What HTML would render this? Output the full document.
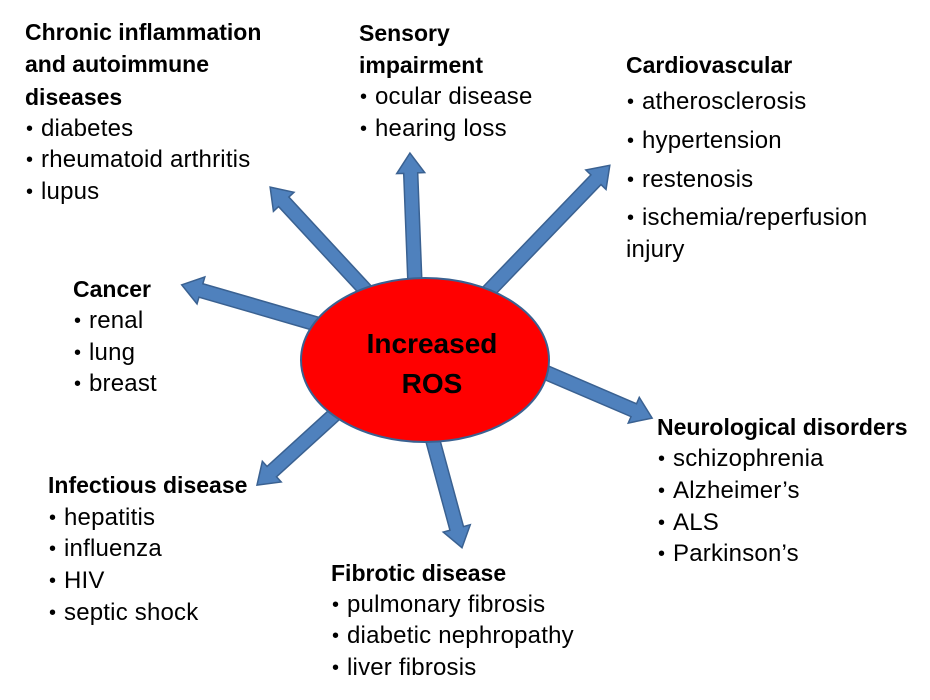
<!DOCTYPE html>
<html><head><meta charset="utf-8"><style>
body{margin:0;width:930px;height:700px;background:#fff;position:relative;overflow:hidden;font-family:"Liberation Sans",sans-serif;}
.t{position:absolute;font-size:24px;line-height:24px;white-space:nowrap;color:#000;letter-spacing:0.2px;}
.b{font-weight:bold;font-size:23px;letter-spacing:0;}
.t.l::before{content:"•";position:absolute;left:-15px;font-size:20px;}
svg{position:absolute;left:0;top:0;}
</style></head><body>
<svg width="930" height="700">
<g fill="#4F81BD" stroke="#3A6191" stroke-width="1.5">
<polygon transform="translate(415,285) rotate(-92.2)" points="0,-7 112,-7 112,-14 132,0 112,14 112,7 0,7"/>
<polygon transform="translate(370,295) rotate(-132.8)" points="0,-7 127,-7 127,-14 147,0 127,14 127,7 0,7"/>
<polygon transform="translate(485,295) rotate(-46.1)" points="0,-7 160,-7 160,-14 180,0 160,14 160,7 0,7"/>
<polygon transform="translate(320,325) rotate(-163.8)" points="0,-7 124,-7 124,-14 144,0 124,14 124,7 0,7"/>
<polygon transform="translate(540,370) rotate(23.2)" points="0,-7 102,-7 102,-14 122,0 102,14 102,7 0,7"/>
<polygon transform="translate(345,405) rotate(137.7)" points="0,-7 99,-7 99,-14 119,0 99,14 99,7 0,7"/>
<polygon transform="translate(430,430) rotate(74.8)" points="0,-7 102,-7 102,-14 122,0 102,14 102,7 0,7"/>
</g>
<ellipse cx="425" cy="360" rx="124" ry="82" fill="#FF0000" stroke="#3A6191" stroke-width="2"/>
<text x="432" y="353" text-anchor="middle" font-family="Liberation Sans" font-weight="bold" font-size="28">Increased</text>
<text x="432" y="393" text-anchor="middle" font-family="Liberation Sans" font-weight="bold" font-size="28">ROS</text>
</svg>

<div class="t b" style="left:25px;top:20px">Chronic inflammation</div>
<div class="t b" style="left:25px;top:52px">and autoimmune</div>
<div class="t b" style="left:25px;top:85px">diseases</div>
<div class="t l" style="left:41px;top:117px">diabetes</div>
<div class="t l" style="left:41px;top:148px">rheumatoid arthritis</div>
<div class="t l" style="left:41px;top:180px">lupus</div>

<div class="t b" style="left:359px;top:21px">Sensory</div>
<div class="t b" style="left:359px;top:53px">impairment</div>
<div class="t l" style="left:375px;top:85px">ocular disease</div>
<div class="t l" style="left:375px;top:117px">hearing loss</div>

<div class="t b" style="left:626px;top:53px">Cardiovascular</div>
<div class="t l" style="left:642px;top:90px">atherosclerosis</div>
<div class="t l" style="left:642px;top:129px">hypertension</div>
<div class="t l" style="left:642px;top:168px">restenosis</div>
<div class="t l" style="left:642px;top:206px">ischemia/reperfusion</div>
<div class="t" style="left:626px;top:238px">injury</div>

<div class="t b" style="left:73px;top:277px">Cancer</div>
<div class="t l" style="left:89px;top:309px">renal</div>
<div class="t l" style="left:89px;top:341px">lung</div>
<div class="t l" style="left:89px;top:372px">breast</div>

<div class="t b" style="left:657px;top:415px">Neurological disorders</div>
<div class="t l" style="left:673px;top:447px">schizophrenia</div>
<div class="t l" style="left:673px;top:479px">Alzheimer’s</div>
<div class="t l" style="left:673px;top:511px">ALS</div>
<div class="t l" style="left:673px;top:542px">Parkinson’s</div>

<div class="t b" style="left:48px;top:473px">Infectious disease</div>
<div class="t l" style="left:64px;top:506px">hepatitis</div>
<div class="t l" style="left:64px;top:537px">influenza</div>
<div class="t l" style="left:64px;top:569px">HIV</div>
<div class="t l" style="left:64px;top:601px">septic shock</div>

<div class="t b" style="left:331px;top:561px">Fibrotic disease</div>
<div class="t l" style="left:347px;top:593px">pulmonary fibrosis</div>
<div class="t l" style="left:347px;top:624px">diabetic nephropathy</div>
<div class="t l" style="left:347px;top:656px">liver fibrosis</div>
</body></html>
